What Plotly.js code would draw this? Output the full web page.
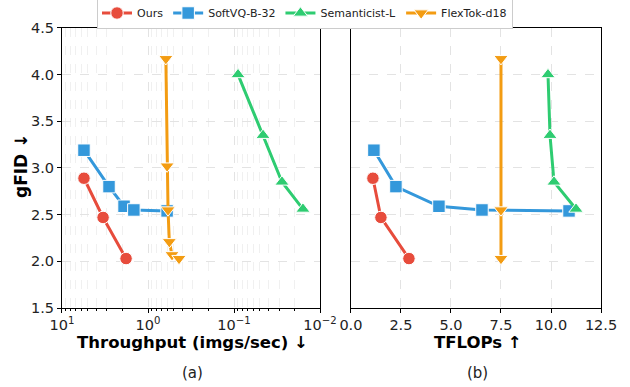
<!DOCTYPE html>
<html>
<head>
<meta charset="utf-8">
<script src="https://cdn.plot.ly/plotly-3.0.1.min.js"></script>
<style>html,body{margin:0;padding:0;background:#fff;}#chart{width:630px;height:387px;}</style>
</head>
<body>
<div id="chart"></div>
<script>
// Data
const seriesNames = ["Ours", "SoftVQ-B-32", "Semanticist-L", "FlexTok-d18"];

const oursThroughput = [5.55, 3.33, 1.80];
const oursTflops = [1.1, 1.5, 2.9];
const oursFid = [2.89, 2.47, 2.03];

const softvqThroughput = [5.55, 2.84, 1.90, 1.46, 0.60];
const softvqTflops = [1.15, 2.25, 4.4, 6.55, 10.9];
const softvqFid = [3.19, 2.80, 2.59, 2.55, 2.54];

const semThroughput = [0.0898, 0.046, 0.0277, 0.0158];
const semTflops = [9.85, 9.95, 10.15, 11.25];
const semFid = [4.00, 3.35, 2.85, 2.56];

const flexThroughput = [0.62, 0.60, 0.585, 0.565, 0.526, 0.436];
const flexThroughputFid = [4.17, 3.02, 2.55, 2.21, 2.07, 2.03];
const flexTflops = [7.5, 7.5, 7.5];
const flexTflopsFid = [4.17, 2.55, 2.03];

const logTickVals = [10, 1, 0.1, 0.01];
const logTickText = ["10<sup>1</sup>", "10<sup>0</sup>", "10<sup>−1</sup>", "10<sup>−2</sup>"];
const flopsTickVals = [0, 2.5, 5, 7.5, 10, 12.5];
const flopsTickText = ["0.0", "2.5", "5.0", "7.5", "10.0", "12.5"];
const fidTickVals = [1.5, 2.0, 2.5, 3.0, 3.5, 4.0, 4.5];

const colors = ["#E74C3C", "#3498DB", "#2ECC71", "#F39C12"];
const symbols = ["circle", "square", "triangle-up", "triangle-down"];

function tr(x, y, i, xa, ya, show) {
  return {
    x: x, y: y, xaxis: xa, yaxis: ya, type: "scatter", mode: "lines+markers",
    name: seriesNames[i], showlegend: show, legendgroup: seriesNames[i],
    line: {color: colors[i], width: 3},
    marker: {color: colors[i], symbol: symbols[i], size: 12.5, line: {color: "#fff", width: 1}},
    cliponaxis: false
  };
}

const data = [
  tr(oursThroughput, oursFid, 0, "x", "y", true),
  tr(softvqThroughput, softvqFid, 1, "x", "y", true),
  tr(semThroughput, semFid, 2, "x", "y", true),
  tr(flexThroughput, flexThroughputFid, 3, "x", "y", true),
  tr(oursTflops, oursFid, 0, "x2", "y2", false),
  tr(softvqTflops, softvqFid, 1, "x2", "y2", false),
  tr(semTflops, semFid, 2, "x2", "y2", false),
  tr(flexTflops, flexTflopsFid, 3, "x2", "y2", false)
];

const font = {family: "DejaVu Sans", color: "#000"};
const gridc = "#e3e3e3";
const common = {
  showline: true, linecolor: "#000", linewidth: 1, mirror: true,
  ticks: "outside", ticklen: 4, tickcolor: "#000",
  showgrid: true, gridcolor: gridc, griddash: "dash", gridwidth: 1,
  zeroline: false, tickfont: {family: "DejaVu Sans", size: 14.5, color: "#222"}
};

const layout = {
  width: 630, height: 387,
  margin: {l: 0, r: 0, t: 0, b: 0, autoexpand: false},
  paper_bgcolor: "#fff", plot_bgcolor: "#fff",
  font: font,
  showlegend: true,
  legend: {
    orientation: "h", x: 305/630, xanchor: "center", y: 1 - 13/387, yanchor: "middle",
    bordercolor: "#cccccc", borderwidth: 1, bgcolor: "#fff",
    font: {family: "DejaVu Sans", size: 11, color: "#222"},
    itemwidth: 30, tracegroupgap: 0
  },
  xaxis: Object.assign({}, common, {
    type: "log", domain: [0.0984, 0.508], range: [1, -2], anchor: "y",
    tickmode: "array", tickvals: logTickVals, ticktext: logTickText,
    minor: {ticks: "outside", ticklen: 2, tickcolor: "#000", showgrid: true, gridcolor: "#f0f0f0", griddash: "dash", dtick: "D1"}
  }),
  yaxis: Object.assign({}, common, {
    domain: [0.204, 0.928], range: [1.5, 4.5], anchor: "x",
    tickmode: "array", tickvals: fidTickVals, tickformat: ".1f"
  }),
  xaxis2: Object.assign({}, common, {
    domain: [0.557, 0.954], range: [0, 12.5], anchor: "y2",
    tickmode: "array", tickvals: flopsTickVals, ticktext: flopsTickText
  }),
  yaxis2: Object.assign({}, common, {
    domain: [0.204, 0.928], range: [1.5, 4.5], anchor: "x2",
    tickmode: "array", tickvals: fidTickVals, showticklabels: false, ticks: ""
  }),
  annotations: [
    {text: "<b>Throughput (imgs/sec) ↓</b>", xref: "paper", yref: "paper", x: 0.305, y: 1 - 342/387, xanchor: "center", yanchor: "middle", showarrow: false, font: {family: "DejaVu Sans", size: 16.5, color: "#000"}},
    {text: "<b>TFLOPs ↑</b>", xref: "paper", yref: "paper", x: 0.7585, y: 1 - 342/387, xanchor: "center", yanchor: "middle", showarrow: false, font: {family: "DejaVu Sans", size: 16.5, color: "#000"}},
    {text: "(a)", xref: "paper", yref: "paper", x: 0.305, y: 1 - 373/387, xanchor: "center", yanchor: "middle", showarrow: false, font: {family: "DejaVu Sans", size: 15, color: "#222"}},
    {text: "(b)", xref: "paper", yref: "paper", x: 0.7585, y: 1 - 373/387, xanchor: "center", yanchor: "middle", showarrow: false, font: {family: "DejaVu Sans", size: 15, color: "#222"}},
    {text: "<b>gFID ↓</b>", xref: "paper", yref: "paper", x: 21/630, y: 1 - 166/387, xanchor: "center", yanchor: "middle", textangle: -90, showarrow: false, font: {family: "DejaVu Sans", size: 17, color: "#000"}}
  ]
};

Plotly.newPlot("chart", data, layout, {displayModeBar: false, staticPlot: true});
</script>
</body>
</html>
